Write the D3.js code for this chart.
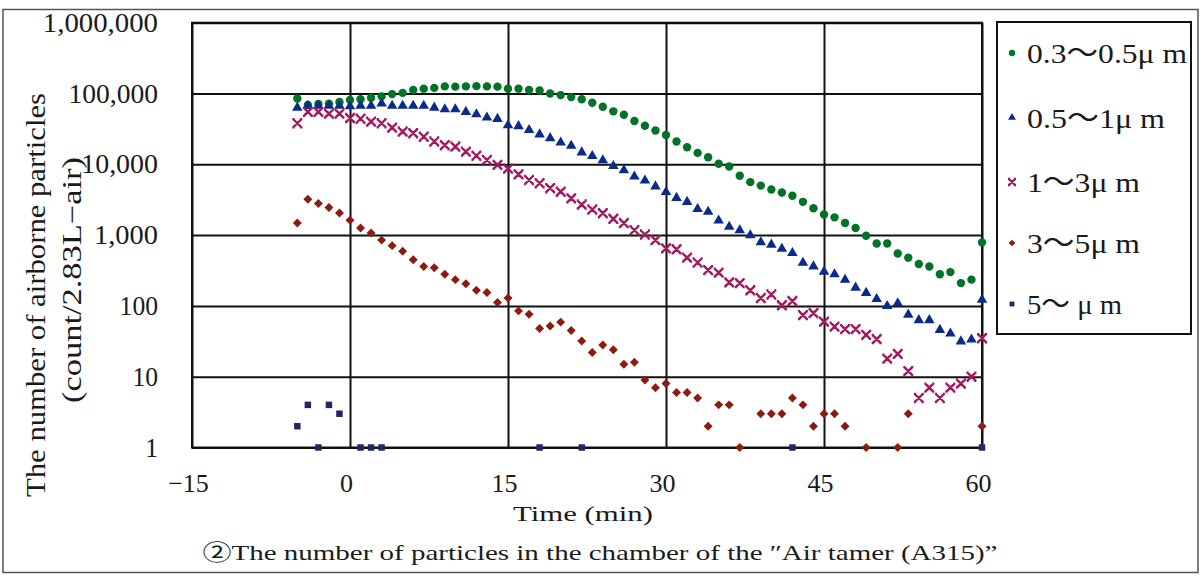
<!DOCTYPE html>
<html lang="en">
<head>
   <meta charset="UTF-8">
   <title>Airborne particles</title>
   <style>
     body { margin: 0; background: #fff; }
     text { font-family: "Liberation Serif", "Times New Roman", Tinos, "Noto Sans CJK JP", serif; fill: #1a1a1a; }
   </style>
</head>
<body>
   <script src="https://d3js.org/d3.v7.min.js"></script>
   <script>
     // minutes, one reading per minute
     const times = [-5,-4,-3,-2,-1,0,1,2,3,4,5,6,7,8,9,10,11,12,13,14,15,16,17,18,19,20,
                    21,22,23,24,25,26,27,28,29,30,31,32,33,34,35,36,37,38,39,40,41,42,43,44,45,
                    46,47,48,49,50,51,52,53,54,55,56,57,58,59,60];

     const s03 = [85000,69000,71000,72000,76000,81000,83000,87000,91000,98000,102000,112000,117000,120000,
                  126000,125000,126000,127000,126000,125000,117000,117000,112000,110000,100000,95000,
                  89000,83000,74000,65000,56000,50000,41000,35000,30000,26000,21000,17400,14500,12600,
                  10200,9300,6900,5600,5000,4400,4000,3600,2950,2400,1950,1780,1480,1260,980,760,760,
                  550,480,390,360,280,300,210,235,790];

     const s05 = [62000,66000,66000,66000,66000,65000,66000,66000,71000,66000,66000,66000,66000,62000,
                  59000,59000,54000,50000,45000,43000,35000,34000,30000,26000,23000,20000,18000,14500,
                  12900,11200,9300,8100,6600,5800,4800,4000,3300,2900,2300,2100,1580,1290,1150,980,780,
                  720,630,550,400,355,300,275,230,178,150,123,98,107,74,62,62,45,40,31,33,120];

     const s1 = [38000,55000,55000,52000,52000,45000,44000,40000,38000,33000,29000,27500,24500,21000,
                 18600,17800,15100,13200,11500,9800,8700,7200,6000,5400,4600,4100,3300,2700,2300,2040,
                 1700,1480,1170,1020,850,650,630,480,410,320,295,215,210,166,129,145,102,117,74,79,60,
                 51,47,47,39,34,18,21,12,5,7,5,7,8,10,35];

     const s3 = [1480,3200,2800,2450,2050,1620,1260,1070,850,710,590,450,360,345,280,235,205,166,155,
                 112,129,85,76,48,52,59,45,32,22,28,24,15,16,9,7,8,6,6,5,2,4,4,1,null,3,3,3,5,4,2,3,3,
                 2,null,1,null,null,1,3,null,null,null,null,null,null,2];

     const s5 = [2,4,1,4,3,null,1,1,1,null,null,null,null,null,null,null,null,null,null,null,null,null,
                 null,1,null,null,null,1,null,null,null,null,null,null,null,null,null,null,null,null,null,
                 null,null,null,null,null,null,1,null,null,null,null,null,null,null,null,null,null,null,
                 null,null,null,null,null,null,1];

     const seriesNames = ['0.3〜0.5μ m', '0.5〜1μ m', '1〜3μ m', '3〜5μ m', '5〜 μ m'];
     const xTicks = [-15, 0, 15, 30, 45, 60];
     const yTicks = [1, 10, 100, 1000, 10000, 100000, 1000000];

     const width = 1201, height = 576;
     const plot = {left: 192, right: 982, top: 22.7, bottom: 447.5};
     const serif = '"Liberation Serif", "Times New Roman", Tinos, serif';

     const svg = d3.create('svg')
                   .attr('width', width)
                   .attr('height', height);

     // outer frame
     svg.append('rect')
        .attr('x', 3).attr('y', 9.5)
        .attr('width', 1195).attr('height', 563)
        .attr('fill', 'none').attr('stroke', '#555').attr('stroke-width', 1.5);

     const x = d3.scaleLinear().domain([-15, 60]).range([plot.left, plot.right]);
     const y = d3.scaleLog().domain([1, 1e6]).range([plot.bottom, plot.top]);

     const yAxis = svg.append('g')
        .attr('transform', `translate(${plot.left},0)`)
        .call(d3.axisLeft(y).tickValues(yTicks).tickFormat(d3.format(','))
              .tickSize(-(plot.right - plot.left)).tickPadding(34));
     yAxis.select('.domain').remove();
     yAxis.selectAll('line').attr('stroke', '#111').attr('stroke-width', 2);
     yAxis.selectAll('text').attr('font-size', 27).attr('fill', '#1a1a1a')
          .attr('textLength', d => String(d3.format(',')(d)).length * 12.8)
          .attr('lengthAdjust', 'spacingAndGlyphs')
          .style('font-family', serif);

     const xAxis = svg.append('g')
        .attr('transform', `translate(0,${plot.bottom})`)
        .call(d3.axisBottom(x).tickValues(xTicks).tickFormat(d => d < 0 ? '−' + (-d) : d)
              .tickSize(-(plot.bottom - plot.top)).tickPadding(26));
     xAxis.select('.domain').remove();
     xAxis.selectAll('line').attr('stroke', '#111').attr('stroke-width', 2);
     xAxis.selectAll('text').attr('font-size', 26).attr('fill', '#1a1a1a').attr('dx', -4)
          .style('font-family', serif);

     // plot border
     svg.append('rect')
        .attr('x', plot.left).attr('y', plot.top)
        .attr('width', plot.right - plot.left).attr('height', plot.bottom - plot.top)
        .attr('fill', 'none').attr('stroke', '#111').attr('stroke-width', 2);

     // marker shapes
     const xMark = r => `M${-r},${-r}L${r},${r}M${r},${-r}L${-r},${r}` +
                        `M${-r-1},${-r}h2.2M${r-1.2},${-r}h2.2M${-r-1},${r}h2.2M${r-1.2},${r}h2.2`;
     const styles = [
       {color: '#007326', draw: (g, k) => g.append('circle').attr('r', 4.2 * k)},
       {color: '#0a2a8c', draw: (g, k) => g.append('path').attr('d', d3.symbol(d3.symbolTriangle, 48 * k * k)())
                                          .attr('transform', 'translate(0,-0.5)')},
       {color: '#a3175f', draw: (g, k) => g.append('path').attr('d', xMark(4 * k))
                                          .attr('fill', 'none').attr('stroke-width', 2.4)},
       {color: '#8c1b10', draw: (g, k) => g.append('path').attr('d', d3.symbol(d3.symbolSquare, 40 * k * k)())
                                          .attr('transform', 'rotate(45)')},
       {color: '#1f2766', draw: (g, k) => g.append('path').attr('d', d3.symbol(d3.symbolSquare, 42 * k * k)())}
     ];
     const allSeries = [s03, s05, s1, s3, s5];

     allSeries.forEach((vals, i) => {
       const st = styles[i];
       const pts = times.map((t, j) => ({t: t, v: vals[j]})).filter(p => p.v != null);
       const g = svg.append('g')
          .selectAll('g').data(pts).join('g')
            .attr('transform', d => `translate(${x(d.t)},${y(d.v)})`)
            .attr('fill', st.color).attr('stroke', st.color);
       g.each(function() {
         const m = st.draw(d3.select(this), 1);
         if (i !== 2) m.attr('stroke', 'none');
       });
     });

     // legend
     svg.append('rect')
        .attr('x', 997).attr('y', 22)
        .attr('width', 194).attr('height', 312)
        .attr('fill', '#fff').attr('stroke', '#111').attr('stroke-width', 2);
     const legendY = [53, 118, 182, 243, 304];
     const legendW = [160, 138, 113, 113, 95];
     seriesNames.forEach((name, i) => {
       const st = styles[i];
       const g = svg.append('g')
          .attr('transform', `translate(1012,${legendY[i]})`)
          .attr('fill', st.color).attr('stroke', st.color);
       const m = st.draw(g, 0.75);
       if (i !== 2) m.attr('stroke', 'none');
       svg.append('text')
          .attr('x', 1027).attr('y', legendY[i] + 10)
          .attr('font-size', 28)
          .attr('textLength', legendW[i]).attr('lengthAdjust', 'spacingAndGlyphs')
          .text(name);
     });

     // axis titles
     svg.append('text')
        .attr('transform', 'translate(45,295) rotate(-90)')
        .attr('text-anchor', 'middle').attr('font-size', 28)
        .attr('textLength', 404).attr('lengthAdjust', 'spacingAndGlyphs')
        .text('The number of airborne particles');
     svg.append('text')
        .attr('transform', 'translate(81,280) rotate(-90)')
        .attr('text-anchor', 'middle').attr('font-size', 27)
        .attr('textLength', 246).attr('lengthAdjust', 'spacingAndGlyphs')
        .text('(count/2.83L−air)');
     svg.append('text')
        .attr('x', 583).attr('y', 521)
        .attr('text-anchor', 'middle').attr('font-size', 22)
        .attr('textLength', 140).attr('lengthAdjust', 'spacingAndGlyphs')
        .text('Time (min)');
     svg.append('text')
        .attr('x', 600).attr('y', 560)
        .attr('text-anchor', 'middle').attr('font-size', 22)
        .attr('textLength', 795).attr('lengthAdjust', 'spacingAndGlyphs')
        .text('②The number of particles in the chamber of the \u2033Air tamer (A315)\u201D');

     document.querySelector('body').appendChild(svg.node());
   </script>
</body>
</html>
